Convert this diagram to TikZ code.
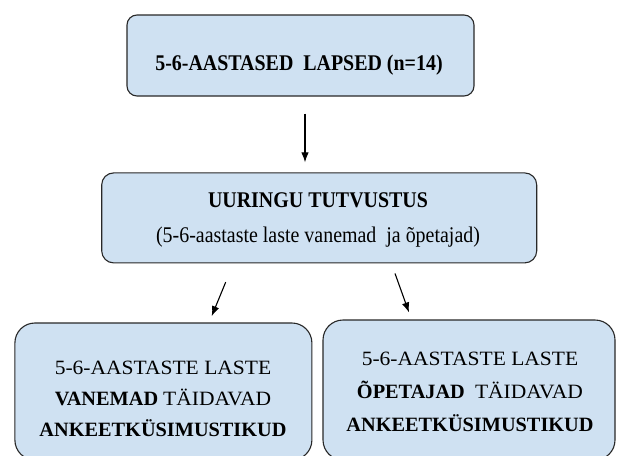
\documentclass[tikz,border=0pt]{standalone}
\usetikzlibrary{calc,arrows.meta}
\usepackage{fontspec}
\setmainfont{Liberation Serif}
\newfontfamily\tallfont{Liberation Serif}[FakeStretch=0.89]
\newfontfamily\widefont{Liberation Serif}[FakeStretch=1.06]
\definecolor{boxblue}{RGB}{207,225,242}
\definecolor{boxline}{RGB}{40,40,40}
\tikzset{
  box/.style={draw=boxline,fill=boxblue,line width=1.1pt,inner sep=0pt},
  boxtext/.style={align=center,inner sep=0pt},
  arrow/.style={line width=1.1pt,-{Latex[length=10pt,width=7.5pt]}}
}

\begin{document}
\begin{tikzpicture}[x=1pt,y=-1pt]
      \useasboundingbox (0,0) rectangle (617,455);
      \clip (0,0) rectangle (617,455);
      \node[box,rounded corners=10pt,minimum width=347pt,minimum height=81pt] (lapsed) at (300.5,55.5) {};
      \node[boxtext,anchor=base,font=\tallfont\fontsize{22.4}{26}\selectfont\bfseries] (lapsedtext) at (299,70.7) {5-6-AASTASED\ \ LAPSED (n=14)};
      \node[box,rounded corners=12pt,minimum width=435pt,minimum height=90pt] (tutvustus) at (319.2,217.9) {};
      \node[boxtext,font=\tallfont\fontsize{22.4}{35}\selectfont] (tutvustustext) at (318,220) {\textbf{UURINGU TUTVUSTUS}\\(5-6-aastaste laste vanemad\ \ ja õpetajad)};
      \node[box,rounded corners=20pt,minimum width=297pt,minimum height=137pt] (vanemad) at (163.4,391.5) {};
      \node[boxtext,font=\fontsize{20.3}{31}\selectfont] (vanemadtext) at (163,399) {{\widefont 5-6-AASTASTE LASTE}\\\textbf{VANEMAD} {\widefont TÄIDAVAD}\\\textbf{ANKEETKÜSIMUSTIKUD}};
      \node[box,rounded corners=20pt,minimum width=292pt,minimum height=140pt] (opetajad) at (469,390) {};
      \node[boxtext,font=\fontsize{20.3}{33}\selectfont] (opetajadtext) at (470,392) {{\widefont 5-6-AASTASTE LASTE}\\\textbf{ÕPETAJAD}\ \ {\widefont TÄIDAVAD}\\\textbf{ANKEETKÜSIMUSTIKUD}};
      \draw[arrow,shorten <=17pt,shorten >=10pt] ([xshift=4.5pt]lapsed.south) -- ([xshift=4.5pt]lapsed.south |- tutvustus.north);
      \draw[arrow] ($(tutvustus.south)+(-93.5,18.7)$) -- ($(vanemad.north)+(48.3,-6.3)$);
      \draw[arrow] ($(tutvustus.south)+(75.8,10)$) -- ($(opetajad.north)+(-60,-7)$);
\end{tikzpicture}
\end{document}
